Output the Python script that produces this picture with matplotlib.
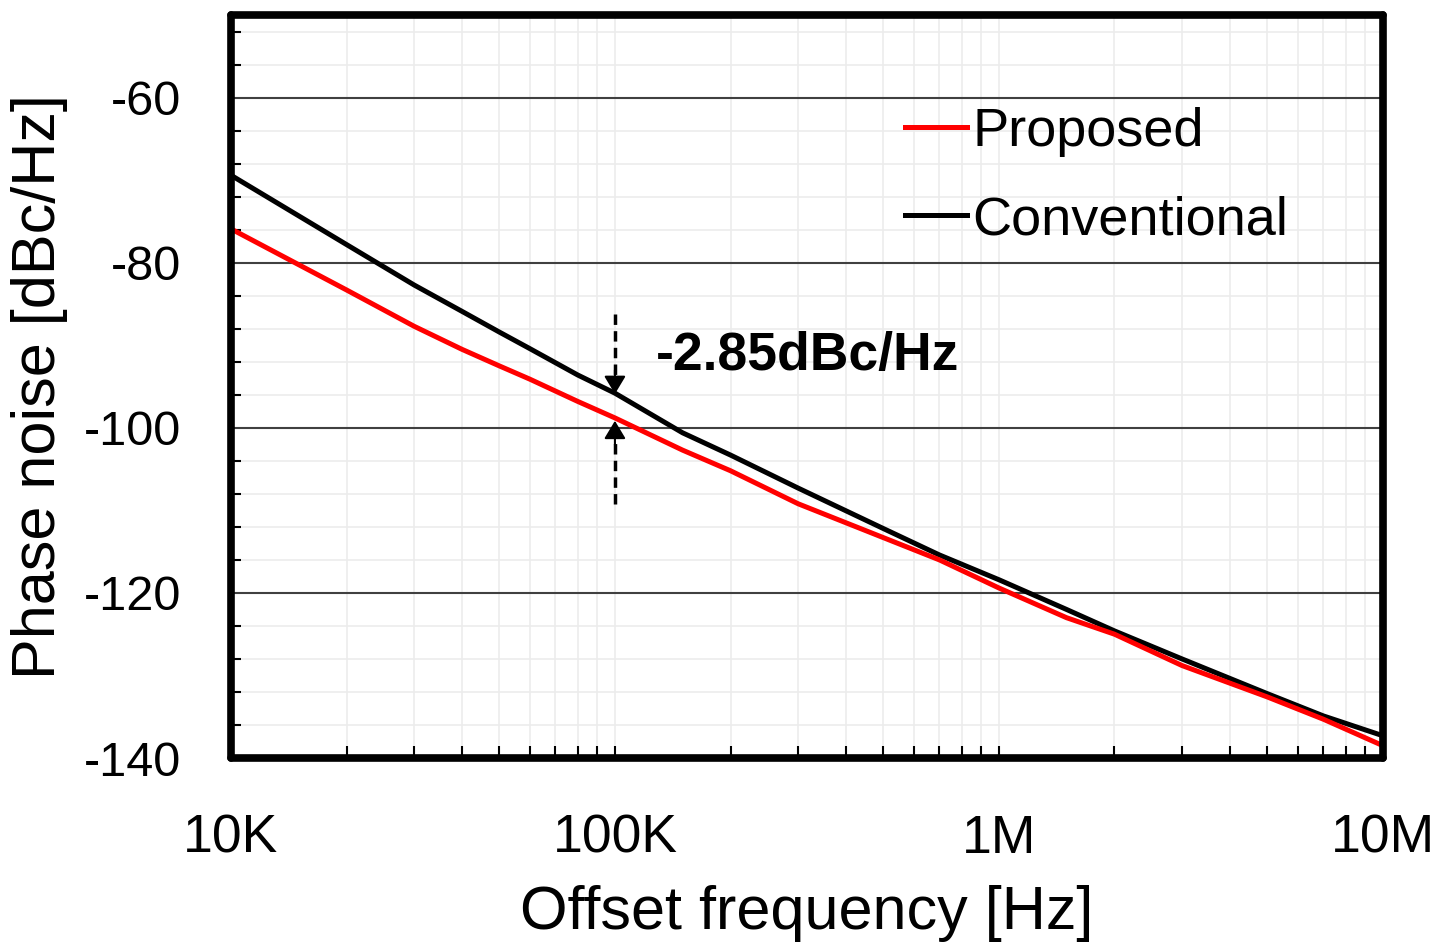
import numpy as np
import matplotlib.pyplot as plt
from matplotlib.ticker import LogLocator, FixedLocator, NullFormatter

plt.rcParams['font.family'] = ['Liberation Sans', 'DejaVu Sans']
plt.rcParams['axes.unicode_minus'] = False

# offset frequency [Hz] and phase noise [dBc/Hz]
freq = [10e3, 20e3, 30e3, 40e3, 50e3, 60e3, 80e3, 100e3, 150e3, 200e3, 300e3,
        500e3, 700e3, 1e6, 1.5e6, 2e6, 3e6, 5e6, 7e6, 10e6]
conventional = [-69.4, -77.8, -82.7, -85.9, -88.4, -90.4, -93.6, -95.8, -100.6,
                -103.3, -107.3, -112.2, -115.4, -118.4, -122.0, -124.6, -128.0,
                -132.2, -134.9, -137.3]
proposed = [-75.9, -83.3, -87.7, -90.5, -92.5, -94.1, -96.8, -98.8, -102.7,
            -105.2, -109.2, -113.3, -116.0, -119.4, -123.0, -125.0, -128.8,
            -132.6, -135.3, -138.5]

xticks = [1e4, 1e5, 1e6, 1e7]
xticklabels = ['10K', '100K', '1M', '10M']
yticks = [-140, -120, -100, -80, -60]

# annotation: gap at 100K
gap_x = 100e3
gap_label = '-2.85dBc/Hz'

fig = plt.figure(figsize=(14.39, 9.42), dpi=100)
ax = fig.add_axes([0.1605, 0.1953, 0.8005, 0.7887])

ax.plot(freq, proposed, color='#ff0000', lw=3.6, label='Proposed', zorder=4)
ax.plot(freq, conventional, color='black', lw=3.6, label='Conventional', zorder=3)

ax.set_xscale('log')
ax.set_xlim(1e4, 1e7)
ax.set_ylim(-140, -50)

ax.set_xticks(xticks)
ax.set_xticklabels(xticklabels)
ax.xaxis.set_minor_locator(LogLocator(base=10, subs=np.arange(2, 10)))
ax.xaxis.set_minor_formatter(NullFormatter())
ax.set_yticks(yticks)
ax.yaxis.set_minor_locator(FixedLocator(np.arange(-140, -49, 4)))

# grid
ax.grid(which='minor', color='#ececec', lw=1.2, zorder=0)
ax.grid(which='major', axis='x', color='#ececec', lw=1.2, zorder=0)
ax.grid(which='major', axis='y', color='#404040', lw=1.5, zorder=1)

ax.tick_params(axis='x', which='major', direction='in', length=9, width=1.5,
               labelsize=38.5, pad=40, top=False)
ax.tick_params(axis='x', which='minor', direction='in', length=9, width=1.5, top=False)
ax.tick_params(axis='y', which='major', direction='in', length=0, labelsize=35, pad=36)
ax.tick_params(axis='y', which='minor', direction='in', length=7, width=1.5, right=False)

for s in ax.spines.values():
    s.set_linewidth(5.5)
    s.set_joinstyle('round')
    s.set_capstyle('round')
    s.set_zorder(6)

ax.set_xlabel('Offset frequency [Hz]', fontsize=44)
ax.set_ylabel('Phase noise [dBc/Hz]', fontsize=44)
ax.xaxis.set_label_coords(0.5, -0.171)
ax.yaxis.set_label_coords(-0.1415, 0.5)

leg = ax.legend(loc='upper left', bbox_to_anchor=(0.566, 0.905), frameon=False,
                fontsize=39, handlelength=1.15, handletextpad=0.1,
                labelspacing=0.7, borderaxespad=0)

# dashed arrows showing the gap
ax.plot([gap_x, gap_x], [-86.2, -94.5], ls=(0, (3, 1.8)), color='black', lw=2.5, zorder=5)
ax.plot([gap_x, gap_x], [-109.2, -100.5], ls=(0, (3, 1.8)), color='black', lw=2.5, zorder=5)
head = dict(arrowstyle='-|>,head_length=0.55,head_width=0.33', mutation_scale=20,
            color='black', lw=1.5, shrinkA=0, shrinkB=0)
ax.annotate('', xy=(gap_x, -95.9), xytext=(gap_x, -93.0), arrowprops=head, zorder=5)
ax.annotate('', xy=(gap_x, -99.15), xytext=(gap_x, -102.0), arrowprops=head, zorder=5)
ax.text(128e3, -91.3, gap_label, fontsize=38.5, fontweight='bold', va='center', ha='left')

fig.savefig('out.png', dpi=100)
